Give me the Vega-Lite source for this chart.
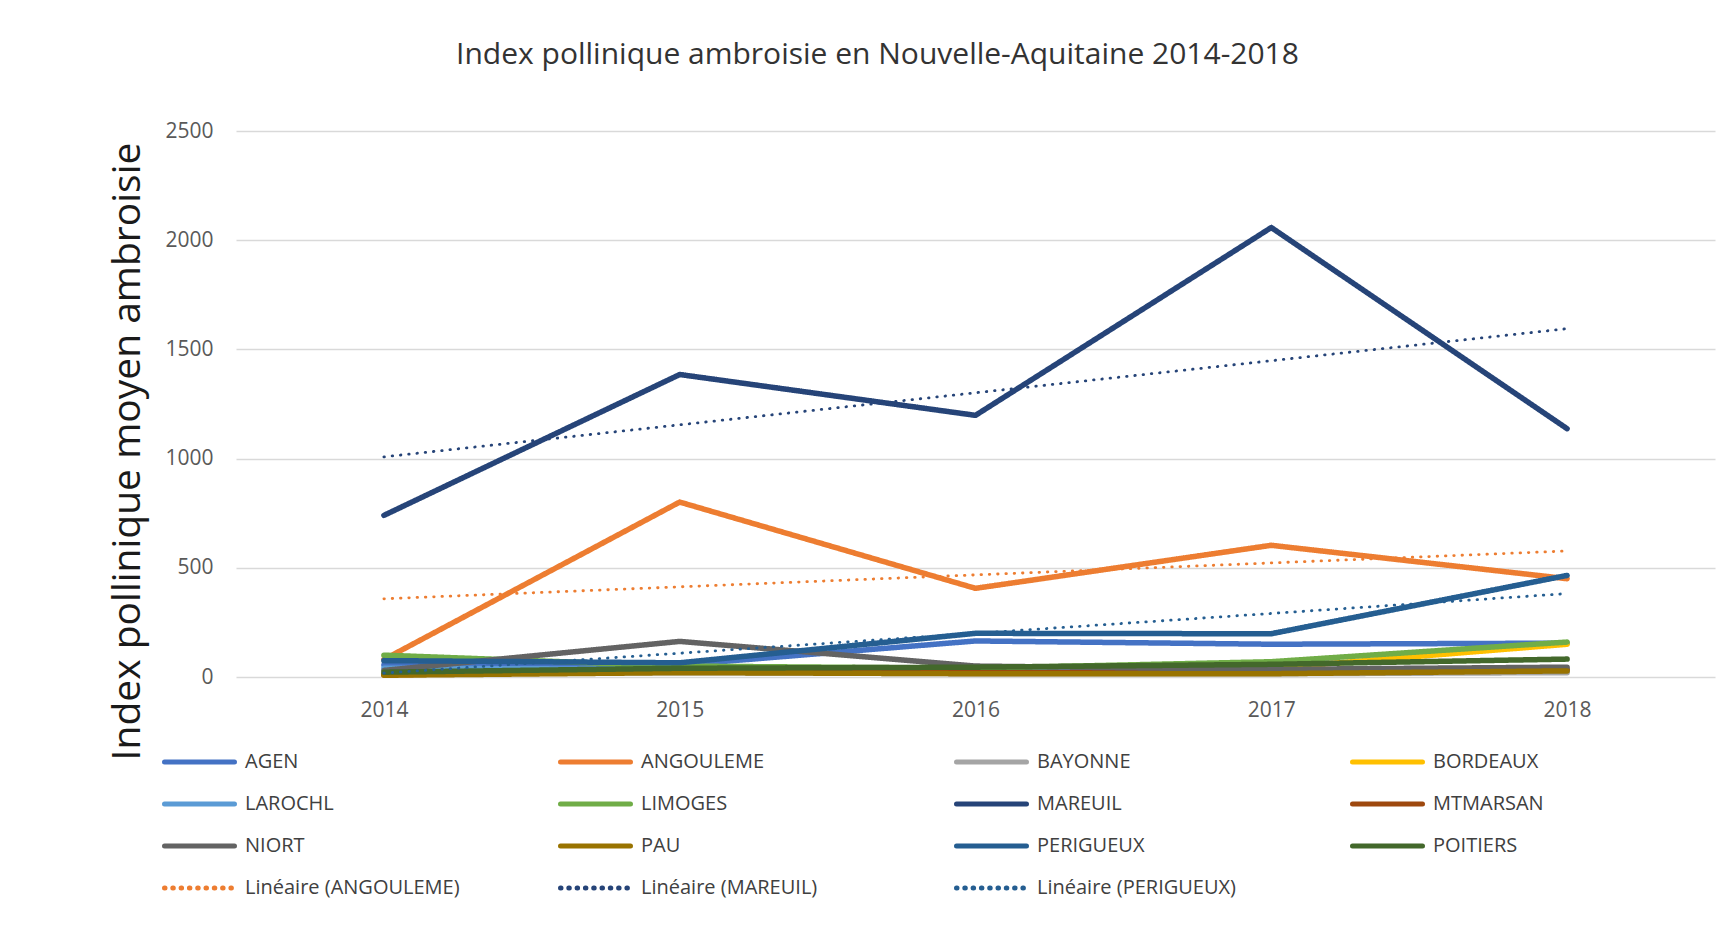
{
  "$schema": "https://vega.github.io/schema/vega-lite/v6.json",
  "width": 1479,
  "height": 546,
  "autosize": {"type": "none"},
  "padding": {"left": 236, "top": 131, "right": 19, "bottom": 250},
  "background": "white",
  "config": {
    "view": {"stroke": null},
    "font": "Open Sans"
  },
  "title": {
    "text": "Index pollinique ambroisie en Nouvelle-Aquitaine 2014-2018",
    "anchor": "middle",
    "dx": -98,
    "offset": 50,
    "fontSize": 30,
    "font": "Open Sans",
    "fontWeight": "normal",
    "color": "#333333"
  },
  "data": {
    "values": [
      {"serie": "AGEN", "annee": "2014", "index": 55},
      {"serie": "AGEN", "annee": "2015", "index": 55},
      {"serie": "AGEN", "annee": "2016", "index": 165},
      {"serie": "AGEN", "annee": "2017", "index": 150},
      {"serie": "AGEN", "annee": "2018", "index": 155},
      {"serie": "ANGOULEME", "annee": "2014", "index": 80},
      {"serie": "ANGOULEME", "annee": "2015", "index": 801},
      {"serie": "ANGOULEME", "annee": "2016", "index": 406},
      {"serie": "ANGOULEME", "annee": "2017", "index": 603},
      {"serie": "ANGOULEME", "annee": "2018", "index": 450},
      {"serie": "BAYONNE", "annee": "2014", "index": 15},
      {"serie": "BAYONNE", "annee": "2015", "index": 20},
      {"serie": "BAYONNE", "annee": "2016", "index": 15},
      {"serie": "BAYONNE", "annee": "2017", "index": 15},
      {"serie": "BAYONNE", "annee": "2018", "index": 20},
      {"serie": "BORDEAUX", "annee": "2014", "index": 10},
      {"serie": "BORDEAUX", "annee": "2015", "index": 30},
      {"serie": "BORDEAUX", "annee": "2016", "index": 25},
      {"serie": "BORDEAUX", "annee": "2017", "index": 40},
      {"serie": "BORDEAUX", "annee": "2018", "index": 150},
      {"serie": "LAROCHL", "annee": "2014", "index": 40},
      {"serie": "LAROCHL", "annee": "2015", "index": 35},
      {"serie": "LAROCHL", "annee": "2016", "index": 30},
      {"serie": "LAROCHL", "annee": "2017", "index": 30},
      {"serie": "LAROCHL", "annee": "2018", "index": 30},
      {"serie": "LIMOGES", "annee": "2014", "index": 100},
      {"serie": "LIMOGES", "annee": "2015", "index": 50},
      {"serie": "LIMOGES", "annee": "2016", "index": 40},
      {"serie": "LIMOGES", "annee": "2017", "index": 70},
      {"serie": "LIMOGES", "annee": "2018", "index": 160},
      {"serie": "MAREUIL", "annee": "2014", "index": 740},
      {"serie": "MAREUIL", "annee": "2015", "index": 1385},
      {"serie": "MAREUIL", "annee": "2016", "index": 1198},
      {"serie": "MAREUIL", "annee": "2017", "index": 2058},
      {"serie": "MAREUIL", "annee": "2018", "index": 1137},
      {"serie": "MTMARSAN", "annee": "2014", "index": 10},
      {"serie": "MTMARSAN", "annee": "2015", "index": 30},
      {"serie": "MTMARSAN", "annee": "2016", "index": 20},
      {"serie": "MTMARSAN", "annee": "2017", "index": 20},
      {"serie": "MTMARSAN", "annee": "2018", "index": 35},
      {"serie": "NIORT", "annee": "2014", "index": 30},
      {"serie": "NIORT", "annee": "2015", "index": 163},
      {"serie": "NIORT", "annee": "2016", "index": 50},
      {"serie": "NIORT", "annee": "2017", "index": 35},
      {"serie": "NIORT", "annee": "2018", "index": 45},
      {"serie": "PAU", "annee": "2014", "index": 8},
      {"serie": "PAU", "annee": "2015", "index": 20},
      {"serie": "PAU", "annee": "2016", "index": 15},
      {"serie": "PAU", "annee": "2017", "index": 15},
      {"serie": "PAU", "annee": "2018", "index": 28},
      {"serie": "PERIGUEUX", "annee": "2014", "index": 75},
      {"serie": "PERIGUEUX", "annee": "2015", "index": 65},
      {"serie": "PERIGUEUX", "annee": "2016", "index": 200},
      {"serie": "PERIGUEUX", "annee": "2017", "index": 198},
      {"serie": "PERIGUEUX", "annee": "2018", "index": 465},
      {"serie": "POITIERS", "annee": "2014", "index": 22},
      {"serie": "POITIERS", "annee": "2015", "index": 40},
      {"serie": "POITIERS", "annee": "2016", "index": 45},
      {"serie": "POITIERS", "annee": "2017", "index": 58},
      {"serie": "POITIERS", "annee": "2018", "index": 82},
      {"serie": "Linéaire (ANGOULEME)", "annee": "2014", "index": 358},
      {"serie": "Linéaire (ANGOULEME)", "annee": "2018", "index": 577},
      {"serie": "Linéaire (MAREUIL)", "annee": "2014", "index": 1008},
      {"serie": "Linéaire (MAREUIL)", "annee": "2018", "index": 1595},
      {"serie": "Linéaire (PERIGUEUX)", "annee": "2014", "index": 18},
      {"serie": "Linéaire (PERIGUEUX)", "annee": "2018", "index": 382}
    ]
  },
  "encoding": {
    "x": {
      "field": "annee",
      "type": "ordinal",
      "scale": {"type": "point", "padding": 0.5, "domain": ["2014", "2015", "2016", "2017", "2018"]},
      "axis": {
        "title": null,
        "labelAngle": 0,
        "labelFontSize": 21,
        "labelFont": "Open Sans",
        "labelColor": "#595959",
        "labelPadding": 22,
        "ticks": false,
        "domain": false,
        "grid": false
      }
    },
    "y": {
      "field": "index",
      "type": "quantitative",
      "scale": {"domain": [0, 2500], "nice": false},
      "axis": {
        "title": "Index pollinique moyen ambroisie",
        "values": [0, 500, 1000, 1500, 2000, 2500],
        "format": "d",
        "labelFontSize": 21,
        "labelFont": "Open Sans",
        "labelColor": "#595959",
        "labelPadding": 23,
        "ticks": false,
        "domain": false,
        "grid": true,
        "gridColor": "#d9d9d9",
        "gridWidth": 1.5,
        "titleFont": "Open Sans",
        "titleFontSize": 39,
        "titleFontWeight": "normal",
        "titleColor": "#1a1a1a",
        "titleAngle": -90,
        "titleAlign": "center",
        "titleBaseline": "middle",
        "titleX": -109,
        "titleY": 320
      }
    },
    "color": {
      "field": "serie",
      "type": "nominal",
      "scale": {
        "domain": ["AGEN", "ANGOULEME", "BAYONNE", "BORDEAUX", "LAROCHL", "LIMOGES", "MAREUIL", "MTMARSAN", "NIORT", "PAU", "PERIGUEUX", "POITIERS", "Linéaire (ANGOULEME)", "Linéaire (MAREUIL)", "Linéaire (PERIGUEUX)"],
        "range": ["#4472C4", "#ED7D31", "#A5A5A5", "#FFC000", "#5B9BD5", "#70AD47", "#264478", "#9E480E", "#636363", "#997300", "#255E91", "#43682B", "#ED7D31", "#264478", "#255E91"]
      },
      "legend": {
        "title": null,
        "orient": "none",
        "direction": "horizontal",
        "legendX": -74,
        "legendY": 621,
        "columns": 4,
        "gridAlign": "all",
        "columnPadding": 98,
        "rowPadding": 22,
        "clipHeight": 20,
        "padding": 0,
        "symbolType": "stroke",
        "symbolSize": 4900,
        "symbolStrokeWidth": 5,
        "labelOffset": 8,
        "labelFontSize": 20,
        "labelFont": "Open Sans",
        "labelColor": "#404040",
        "labelLimit": 400,
        "encode": {
          "symbols": {
            "update": {
              "strokeCap": {"value": "round"}
            }
          }
        }
      }
    },
    "strokeDash": {
      "field": "serie",
      "type": "nominal",
      "scale": {
        "domain": ["AGEN", "ANGOULEME", "BAYONNE", "BORDEAUX", "LAROCHL", "LIMOGES", "MAREUIL", "MTMARSAN", "NIORT", "PAU", "PERIGUEUX", "POITIERS", "Linéaire (ANGOULEME)", "Linéaire (MAREUIL)", "Linéaire (PERIGUEUX)"],
        "range": [[1, 0], [1, 0], [1, 0], [1, 0], [1, 0], [1, 0], [1, 0], [1, 0], [1, 0], [1, 0], [1, 0], [1, 0], [0.5, 7.8], [0.5, 7.8], [0.5, 7.8]]
      },
      "legend": null
    }
  },
  "layer": [
    {
      "transform": [{"filter": {"field": "serie", "oneOf": ["AGEN", "ANGOULEME", "BAYONNE", "BORDEAUX", "LAROCHL", "LIMOGES", "MAREUIL", "MTMARSAN", "NIORT", "PAU", "PERIGUEUX", "POITIERS"]}}],
      "mark": {"type": "line", "strokeWidth": 5.5, "strokeCap": "round", "strokeJoin": "round"}
    },
    {
      "transform": [{"filter": {"field": "serie", "oneOf": ["Linéaire (ANGOULEME)", "Linéaire (MAREUIL)", "Linéaire (PERIGUEUX)"]}}],
      "mark": {"type": "line", "strokeWidth": 2.8, "strokeCap": "round"}
    }
  ]
}
